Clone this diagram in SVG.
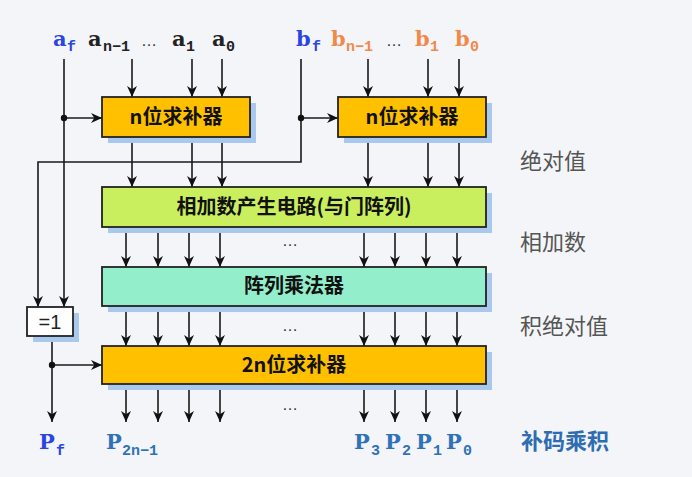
<svg xmlns="http://www.w3.org/2000/svg" width="692" height="477" viewBox="0 0 692 477">
<defs>
<marker id="ah" viewBox="0 0 10 10" refX="10" refY="5" markerWidth="11" markerHeight="11" markerUnits="userSpaceOnUse" orient="auto">
<path d="M0,0.5 L10,5 L0,9.5 L3,5 z" fill="#111"/>
</marker>
<style>
.w{stroke:#1a1a1a;stroke-width:1.6;fill:none}
.a{stroke:#1a1a1a;stroke-width:1.6;fill:none;marker-end:url(#ah)}
.sh{fill:#a9c8ee}
.bx{stroke:#222;stroke-width:1.8}
.org{fill:#ffc000}
.grn{fill:#c9ee5e}
.cyn{fill:#93efcb}
.wht{fill:#ffffff}
.t{font-family:"Noto Sans CJK SC","Liberation Sans",sans-serif;font-weight:bold;font-size:20px;fill:#111;text-anchor:middle}
.side{font-family:"Noto Sans CJK SC",sans-serif;font-size:22px;fill:#555}
.m{font-family:"DejaVu Serif",serif;font-weight:bold;font-size:21px}
.s{font-family:"Liberation Mono","Courier New",monospace;font-weight:bold;font-size:15px}
.dk{fill:#222}
.bl{fill:#2b45e0}
.or{fill:#f08a4b}
.pb{fill:#2f72b8}
.dots{font-family:"Liberation Sans",sans-serif;font-size:16px;fill:#333}
</style>
</defs>
<rect width="692" height="477" fill="#f4f5f8"/>

<g id="connectors">
<line class="a" x1="132" y1="59" x2="132" y2="97"/>
<line class="a" x1="192" y1="59" x2="192" y2="97"/>
<line class="a" x1="222" y1="59" x2="222" y2="97"/>
<line class="a" x1="368" y1="59" x2="368" y2="97"/>
<line class="a" x1="428" y1="59" x2="428" y2="97"/>
<line class="a" x1="459" y1="59" x2="459" y2="97"/>
<line class="a" x1="64" y1="59" x2="64" y2="307"/>
<line class="a" x1="64" y1="118" x2="102" y2="118"/>
<circle cx="64" cy="118" r="3.2" fill="#111"/>
<polyline class="a" points="301,59 301,162 38,162 38,307"/>
<line class="a" x1="301" y1="118" x2="338" y2="118"/>
<circle cx="301" cy="118" r="3.2" fill="#111"/>
<line class="a" x1="132" y1="137" x2="132" y2="187"/>
<line class="a" x1="192" y1="137" x2="192" y2="187"/>
<line class="a" x1="222" y1="137" x2="222" y2="187"/>
<line class="a" x1="368" y1="137" x2="368" y2="187"/>
<line class="a" x1="428" y1="137" x2="428" y2="187"/>
<line class="a" x1="459" y1="137" x2="459" y2="187"/>
<line class="a" x1="126" y1="227" x2="126" y2="267"/>
<line class="a" x1="158" y1="227" x2="158" y2="267"/>
<line class="a" x1="189" y1="227" x2="189" y2="267"/>
<line class="a" x1="220" y1="227" x2="220" y2="267"/>
<line class="a" x1="364" y1="227" x2="364" y2="267"/>
<line class="a" x1="395" y1="227" x2="395" y2="267"/>
<line class="a" x1="426" y1="227" x2="426" y2="267"/>
<line class="a" x1="457" y1="227" x2="457" y2="267"/>
<line class="a" x1="126" y1="306" x2="126" y2="346"/>
<line class="a" x1="158" y1="306" x2="158" y2="346"/>
<line class="a" x1="189" y1="306" x2="189" y2="346"/>
<line class="a" x1="220" y1="306" x2="220" y2="346"/>
<line class="a" x1="364" y1="306" x2="364" y2="346"/>
<line class="a" x1="395" y1="306" x2="395" y2="346"/>
<line class="a" x1="426" y1="306" x2="426" y2="346"/>
<line class="a" x1="457" y1="306" x2="457" y2="346"/>
<line class="a" x1="52" y1="336" x2="52" y2="422"/>
<line class="a" x1="52" y1="365" x2="102" y2="365"/>
<circle cx="52" cy="365" r="3.2" fill="#111"/>
<line class="a" x1="126" y1="384" x2="126" y2="422"/>
<line class="a" x1="158" y1="384" x2="158" y2="422"/>
<line class="a" x1="189" y1="384" x2="189" y2="422"/>
<line class="a" x1="220" y1="384" x2="220" y2="422"/>
<line class="a" x1="364" y1="384" x2="364" y2="422"/>
<line class="a" x1="395" y1="384" x2="395" y2="422"/>
<line class="a" x1="426" y1="384" x2="426" y2="422"/>
<line class="a" x1="457" y1="384" x2="457" y2="422"/>
</g>

<g id="compA">
<rect class="sh" x="108" y="103" width="148" height="40"/>
<rect class="bx org" x="102" y="97" width="148" height="40"/>
<text class="t" x="176" y="124">n位求补器</text>
</g>
<g id="compB">
<rect class="sh" x="344" y="103" width="148" height="40"/>
<rect class="bx org" x="338" y="97" width="148" height="40"/>
<text class="t" x="412" y="124">n位求补器</text>
</g>
<g id="andArray">
<rect class="sh" x="108" y="193" width="384" height="40"/>
<rect class="bx grn" x="102" y="187" width="384" height="40"/>
<text class="t" x="294" y="214">相加数产生电路(与门阵列)</text>
</g>
<g id="multiplier">
<rect class="sh" x="108" y="273" width="384" height="39"/>
<rect class="bx cyn" x="102" y="267" width="384" height="39"/>
<text class="t" x="294" y="293">阵列乘法器</text>
</g>
<g id="xor">
<rect class="sh" x="33" y="313" width="46" height="29"/>
<rect class="bx wht" x="27" y="307" width="46" height="29"/>
<text x="50" y="329" font-family="Liberation Sans, sans-serif" font-size="20" fill="#222" text-anchor="middle">=1</text>
</g>
<g id="comp2n">
<rect class="sh" x="108" y="352" width="384" height="38"/>
<rect class="bx org" x="102" y="346" width="384" height="38"/>
<text class="t" x="294" y="372">2n位求补器</text>
</g>

<g id="inputs">
<text class="m bl" x="53" y="46">a</text><text class="s bl" x="67" y="51">f</text>
<text class="m dk" x="88" y="46">a</text><text class="s dk" x="103" y="51">n−1</text>
<text class="dots" x="141" y="46">…</text>
<text class="m dk" x="172" y="46">a</text><text class="s dk" x="186" y="51">1</text>
<text class="m dk" x="212" y="46">a</text><text class="s dk" x="226" y="51">0</text>
<text class="m bl" x="296" y="46">b</text><text class="s bl" x="312" y="51">f</text>
<text class="m or" x="331" y="46">b</text><text class="s or" x="346" y="51">n−1</text>
<text class="dots" x="386" y="46">…</text>
<text class="m or" x="415" y="46">b</text><text class="s or" x="430" y="51">1</text>
<text class="m or" x="455" y="46">b</text><text class="s or" x="470" y="51">0</text>
</g>

<g id="dots">
<text class="dots" x="282" y="246">…</text>
<text class="dots" x="282" y="331">…</text>
<text class="dots" x="282" y="410">…</text>
</g>

<g id="outputs">
<text class="m bl" x="39" y="449">P</text><text class="s bl" x="56" y="455">f</text>
<text class="m pb" x="106" y="449">P</text><text class="s pb" x="122" y="455">2n−1</text>
<text class="m pb" x="354" y="449">P</text><text class="s pb" x="371" y="455">3</text>
<text class="m pb" x="385" y="449">P</text><text class="s pb" x="402" y="455">2</text>
<text class="m pb" x="416" y="449">P</text><text class="s pb" x="433" y="455">1</text>
<text class="m pb" x="446" y="449">P</text><text class="s pb" x="463" y="455">0</text>
</g>

<g id="sideLabels">
<text class="side" x="520" y="169">绝对值</text>
<text class="side" x="520" y="250">相加数</text>
<text class="side" x="520" y="334">积绝对值</text>
<text class="side" x="521" y="449" font-weight="bold" style="fill:#2f6db3">补码乘积</text>
</g>
</svg>
